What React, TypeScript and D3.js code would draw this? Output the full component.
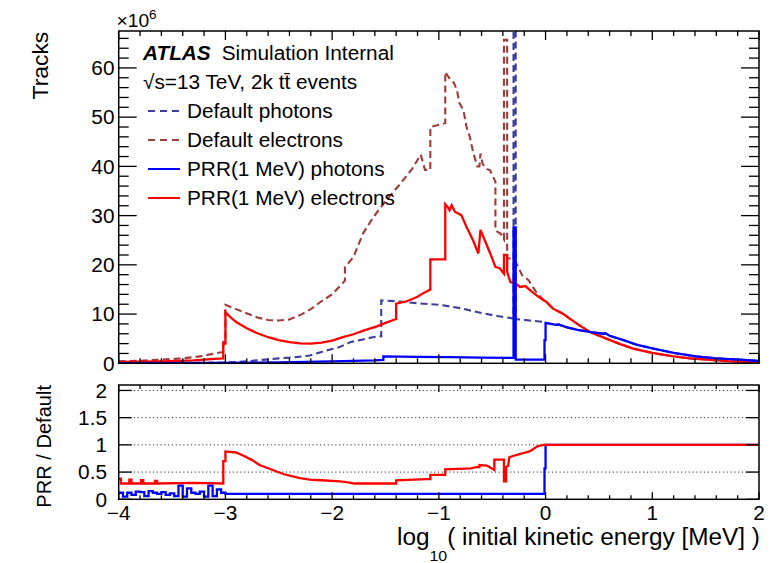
import React from 'react';
import * as d3 from 'd3';

const W = 777;
const H = 563;
const FONT = '"Liberation Sans", Arial, Helvetica, sans-serif';

// Axis ranges and tick labels
const ENERGY_DOMAIN: [number, number] = [-4, 2];
const TRACKS_MAX = 67.5;
const RATIO_MAX = 2.1;
const energyTicks = [-4, -3, -2, -1, 0, 1, 2];
const energyTickLabels = ['\u22124', '\u22123', '\u22122', '\u22121', '0', '1', '2'];
const tracksTicks = [0, 10, 20, 30, 40, 50, 60];
const ratioTicks = [0, 0.5, 1, 1.5, 2];
const ratioTickLabels = ['0', '0.5', '1', '1.5', '2'];
const ratioGrid = [0.5, 1, 1.5, 2];

type Pt = [number, number];

// Tracks (x10^6) vs log10(E / MeV). Repeated x values mark the vertical edges of bins.
const photonsAboveOneMeV: Pt[] = [
  [0, 8.2], [0.1, 7.8], [0.12, 7.9], [0.2, 7.3], [0.3, 6.8], [0.41, 6.4], [0.54, 6.0],
  [0.56, 6.1], [0.6, 5.6], [0.73, 4.7], [0.85, 3.8], [1.01, 3.0], [1.2, 2.1], [1.41, 1.4],
  [1.6, 1.0], [1.82, 0.75], [2.0, 0.47],
];
const electronsAboveOneMeV: Pt[] = [
  [0, 12.6], [0.07, 11.1], [0.16, 10.1], [0.29, 8.1], [0.41, 6.4], [0.57, 5.0], [0.7, 3.9],
  [0.82, 3.0], [1.0, 2.1], [1.2, 1.4], [1.35, 1.0], [1.51, 0.75], [1.7, 0.45], [1.85, 0.3],
  [2.0, 0.18],
];

const defaultPhotons: Pt[] = [
  [-4, 0.05], [-3.5, 0.08], [-3.0, 0.15], [-2.8, 0.4], [-2.71, 0.6], [-2.6, 0.8], [-2.5, 1.0],
  [-2.4, 1.15], [-2.3, 1.35], [-2.21, 1.6], [-2.1, 2.3], [-2.0, 2.9], [-1.93, 3.3], [-1.83, 4.3],
  [-1.7, 4.9], [-1.62, 5.3], [-1.54, 5.5], [-1.54, 12.8], [-1.4, 12.6], [-1.2, 12.2],
  [-1.0, 11.9], [-0.8, 11.2], [-0.6, 10.2], [-0.45, 9.6], [-0.3, 9.1], [-0.3, 90], [-0.28, 90],
  [-0.28, 9.0], [-0.15, 8.7], [-0.02, 8.4],
  ...photonsAboveOneMeV,
];

const defaultElectrons: Pt[] = [
  [-4, 0.4], [-3.8, 0.5], [-3.61, 0.75], [-3.4, 1.0], [-3.24, 1.4], [-3.1, 2.0], [-3.02, 2.3],
  [-3.02, 4.3], [-3.0, 4.3], [-3.0, 11.9], [-2.9, 11.0], [-2.83, 10.4], [-2.7, 9.3],
  [-2.6, 8.8], [-2.5, 8.7], [-2.4, 8.9], [-2.3, 9.8], [-2.2, 11.0], [-2.1, 12.6], [-2.0, 14.0],
  [-1.88, 16.8], [-1.88, 19.5], [-1.8, 21.6], [-1.71, 26.4], [-1.61, 29.8], [-1.49, 33.2],
  [-1.36, 36.5], [-1.25, 39.5], [-1.17, 42.4], [-1.13, 39.3], [-1.08, 39.3], [-1.08, 48.0],
  [-0.94, 48.8], [-0.94, 59.2], [-0.92, 58.5], [-0.89, 57.5], [-0.86, 57.0], [-0.83, 55.5],
  [-0.81, 53.0], [-0.77, 51.4], [-0.74, 48.0], [-0.71, 46.0], [-0.68, 43.0], [-0.64, 40.0],
  [-0.62, 40.0], [-0.61, 42.6], [-0.59, 40.5], [-0.55, 39.5], [-0.52, 39.2], [-0.47, 36.9],
  [-0.47, 27.0], [-0.42, 26.3], [-0.39, 25.2], [-0.39, 65.7], [-0.36, 65.7], [-0.36, 21.3],
  [-0.33, 21.3], [-0.28, 20.6], [-0.22, 17.9], [-0.16, 16.9], [-0.08, 14.2], [-0.02, 12.9],
  ...electronsAboveOneMeV,
];

const prrPhotons: Pt[] = [
  [-4, 0.05], [-3.0, 0.1], [-2.5, 0.2], [-2.0, 0.4], [-1.6, 0.6], [-1.52, 0.7], [-1.52, 1.4],
  [-1.2, 1.3], [-0.9, 1.25], [-0.6, 1.15], [-0.3, 1.1], [-0.3, 27.6], [-0.28, 27.6],
  [-0.28, 0.75], [-0.01, 0.75], [-0.01, 4.7], [0, 4.7],
  ...photonsAboveOneMeV,
];

const prrElectrons: Pt[] = [
  [-4, 0.3], [-3.6, 0.4], [-3.3, 0.6], [-3.1, 0.9], [-3.02, 1.0], [-3.02, 4.0], [-3.0, 4.0],
  [-3.0, 10.4], [-2.95, 9.3], [-2.9, 8.4], [-2.8, 7.1], [-2.7, 6.1], [-2.6, 5.3], [-2.5, 4.7],
  [-2.4, 4.3], [-2.3, 4.05], [-2.2, 4.0], [-2.1, 4.2], [-2.0, 4.6], [-1.9, 5.3], [-1.8, 5.9],
  [-1.7, 6.7], [-1.58, 7.5], [-1.5, 8.2], [-1.4, 9.0], [-1.4, 12.1], [-1.3, 12.6],
  [-1.2, 13.5], [-1.15, 14.2], [-1.08, 15.0], [-1.08, 21.1], [-0.94, 21.1], [-0.94, 32.3],
  [-0.92, 31.8], [-0.9, 31.1], [-0.88, 32.1], [-0.85, 30.8], [-0.79, 30.1], [-0.74, 27.7],
  [-0.68, 25.0], [-0.63, 22.3], [-0.61, 27.1], [-0.57, 25.0], [-0.52, 22.4], [-0.47, 19.6],
  [-0.43, 19.3], [-0.39, 18.2], [-0.39, 22.0], [-0.36, 22.0], [-0.36, 18.6], [-0.33, 16.5],
  [-0.28, 16.2], [-0.24, 15.5], [-0.19, 15.7], [-0.11, 14.2], [-0.02, 12.8],
  ...electronsAboveOneMeV,
];

// PRR / Default ratios
const photonRatioLowBins = [
  0.12, 0.05, 0.12, 0.08, 0.14, 0.13, 0.06, 0.15, 0.12, 0.1, 0.13, 0.08, 0.11, 0.06, 0.25,
  0.05, 0.2, 0.12, 0.1, 0.14, 0.05, 0.25, 0.06, 0.18, 0.12,
];
const photonRatioTail: Pt[] = [
  [-3.0, 0.1], [-0.01, 0.1], [-0.01, 0.57], [0, 0.57], [0, 1.0], [2, 1.0],
];
const electronRatio: Pt[] = [
  [-4, 0.38], [-3.98, 0.38], [-3.98, 0.29], [-3.9, 0.29], [-3.9, 0.36], [-3.88, 0.36],
  [-3.88, 0.29], [-3.79, 0.29], [-3.79, 0.35], [-3.77, 0.35], [-3.77, 0.29], [-3.66, 0.29],
  [-3.66, 0.34], [-3.64, 0.34], [-3.64, 0.29], [-3.3, 0.3], [-3.02, 0.29], [-3.02, 0.7],
  [-3.0, 0.7], [-3.0, 0.88], [-2.9, 0.86], [-2.83, 0.8], [-2.75, 0.72], [-2.68, 0.63],
  [-2.6, 0.57], [-2.52, 0.51], [-2.45, 0.46], [-2.37, 0.42], [-2.3, 0.39], [-2.21, 0.36],
  [-2.1, 0.35], [-1.93, 0.33], [-1.85, 0.31], [-1.79, 0.29], [-1.4, 0.29], [-1.4, 0.35],
  [-1.12, 0.37], [-1.08, 0.37], [-1.08, 0.45], [-0.94, 0.45], [-0.94, 0.55], [-0.7, 0.57],
  [-0.65, 0.59], [-0.62, 0.59], [-0.62, 0.63], [-0.55, 0.62], [-0.48, 0.54], [-0.48, 0.73],
  [-0.39, 0.73], [-0.39, 0.33], [-0.37, 0.33], [-0.37, 0.59], [-0.35, 0.62], [-0.34, 0.77],
  [-0.3, 0.8], [-0.15, 0.88], [-0.08, 0.97], [-0.02, 1.0], [2, 1.0],
];

const COLORS = {
  defaultPhotons: '#3d3d9c',
  defaultElectrons: '#9e3b3b',
  prrPhotons: '#0000ff',
  prrElectrons: '#ff0000',
};

const legendEntries = [
  { label: 'Default photons', color: COLORS.defaultPhotons, dashed: true },
  { label: 'Default electrons', color: COLORS.defaultElectrons, dashed: true },
  { label: 'PRR(1 MeV) photons', color: COLORS.prrPhotons, dashed: false },
  { label: 'PRR(1 MeV) electrons', color: COLORS.prrElectrons, dashed: false },
];

// Layout
const LEFT = 118.7;
const RIGHT = 759;
const TOP_Y0 = 31;
const TOP_Y1 = 363.3;
const LOW_Y0 = 385;
const LOW_Y1 = 499.3;
const STRETCH = 1.04;

function Txt(props: {
  x: number; y: number; size: number; anchor?: string; rotate?: number; sx?: number;
  weight?: string; italic?: boolean; children: React.ReactNode;
}) {
  const { x, y, size, anchor = 'start', rotate = 0, sx = STRETCH, weight, italic, children } = props;
  return (
    <text
      transform={`translate(${x},${y})${rotate ? ` rotate(${rotate})` : ''} scale(${sx},1)`}
      fontSize={size}
      fontFamily={FONT}
      textAnchor={anchor as any}
      fontWeight={weight}
      fontStyle={italic ? 'italic' : undefined}
      fill="#000"
    >
      {children}
    </text>
  );
}

function binsToSteps(values: number[], x0: number, width: number): Pt[] {
  const pts: Pt[] = [];
  values.forEach((v, i) => {
    pts.push([x0 + i * width, v]);
    pts.push([x0 + (i + 1) * width, v]);
  });
  return pts;
}

export default function App() {
  const x = d3.scaleLinear().domain(ENERGY_DOMAIN).range([LEFT, RIGHT]);
  const yTop = d3.scaleLinear().domain([0, TRACKS_MAX]).range([TOP_Y1, TOP_Y0]);
  const yLow = d3.scaleLinear().domain([0, RATIO_MAX]).range([LOW_Y1, LOW_Y0]);

  const lineTop = d3.line<Pt>().x((d) => x(d[0])).y((d) => yTop(d[1]));
  const lineLow = d3.line<Pt>().x((d) => x(d[0])).y((d) => yLow(d[1]));

  const photonRatio: Pt[] = [...binsToSteps(photonRatioLowBins, -4, 0.04), ...photonRatioTail];

  const minorX = d3.range(-4, 2.0001, 0.2).map((v) => Math.round(v * 10) / 10);
  const minorTracks = d3.range(0, TRACKS_MAX, 2);

  const tick = (k: string, x1: number, y1: number, x2: number, y2: number) => (
    <line key={k} x1={x1} y1={y1} x2={x2} y2={y2} stroke="#000" strokeWidth={1.3} />
  );

  const xTicks = (prefix: string, yBottom: number, yTopEdge: number, major: number, minor: number) =>
    minorX.flatMap((v) => {
      const len = Number.isInteger(v) ? major : minor;
      const px = x(v);
      return [
        tick(`${prefix}b${v}`, px, yBottom, px, yBottom - len),
        tick(`${prefix}t${v}`, px, yTopEdge, px, yTopEdge + len),
      ];
    });

  return (
    <svg
      width={W}
      height={H}
      viewBox={`0 0 ${W} ${H}`}
      style={{ position: 'absolute', left: 0, top: 0, background: '#fff' }}
    >
      <defs>
        <clipPath id="topClip">
          <rect x={LEFT} y={TOP_Y0} width={RIGHT - LEFT} height={TOP_Y1 - TOP_Y0} />
        </clipPath>
        <clipPath id="lowClip">
          <rect x={LEFT} y={LOW_Y0} width={RIGHT - LEFT} height={LOW_Y1 - LOW_Y0} />
        </clipPath>
      </defs>
      <rect x={0} y={0} width={W} height={H} fill="#fff" />

      {/* Upper panel: track spectra */}
      <g clipPath="url(#topClip)" fill="none" strokeLinejoin="miter">
        <path d={lineTop(defaultPhotons) ?? ''} stroke={COLORS.defaultPhotons} strokeWidth={2.1} strokeDasharray="7 4" />
        <path d={lineTop(defaultElectrons) ?? ''} stroke={COLORS.defaultElectrons} strokeWidth={2.1} strokeDasharray="7 4" />
        <path d={lineTop(prrElectrons) ?? ''} stroke={COLORS.prrElectrons} strokeWidth={2.3} />
        <path d={lineTop(prrPhotons) ?? ''} stroke={COLORS.prrPhotons} strokeWidth={2.3} />
      </g>

      <rect x={LEFT} y={TOP_Y0} width={RIGHT - LEFT} height={TOP_Y1 - TOP_Y0} fill="none" stroke="#000" strokeWidth={1.5} />
      {xTicks('top', TOP_Y1, TOP_Y0, 9, 5)}
      {minorTracks.map((v) => {
        const len = v % 10 === 0 ? 18 : 10;
        const py = yTop(v);
        return (
          <g key={`yt${v}`}>
            {tick(`yl${v}`, LEFT, py, LEFT + len, py)}
            {tick(`yr${v}`, RIGHT, py, RIGHT - len, py)}
          </g>
        );
      })}
      {tracksTicks.map((v) => (
        <Txt key={`tl${v}`} x={114.5} y={yTop(v) + 7.2} size={20} anchor="end">{String(v)}</Txt>
      ))}
      <Txt x={116.5} y={26.7} size={18.5}>
        {'\u00d710'}
        <tspan dy={-7.5} fontSize={13}>6</tspan>
      </Txt>
      <Txt x={48} y={31.7} size={22} anchor="end" rotate={-90}>Tracks</Txt>

      {/* Labels and legend */}
      <Txt x={143} y={60} size={20} weight="bold" italic>ATLAS</Txt>
      <Txt x={221.7} y={60} size={20}>Simulation Internal</Txt>
      <Txt x={143} y={89.3} size={20}>{'\u221as=13 TeV, 2k t'}{'t\u0304'}{' events'}</Txt>
      {legendEntries.map((e, i) => {
        const base = 117.5 + i * 29;
        return (
          <g key={e.label}>
            <line
              x1={148} x2={180} y1={base - 6.5} y2={base - 6.5}
              stroke={e.color} strokeWidth={2}
              strokeDasharray={e.dashed ? '7 5' : undefined}
            />
            <Txt x={187} y={base} size={20}>{e.label}</Txt>
          </g>
        );
      })}

      {/* Lower panel: ratio */}
      {ratioGrid.map((v) => (
        <line key={`g${v}`} x1={LEFT} x2={RIGHT} y1={yLow(v)} y2={yLow(v)} stroke="#333" strokeWidth={1} strokeDasharray="1.2 2.6" />
      ))}
      <g clipPath="url(#lowClip)" fill="none">
        <path d={lineLow(photonRatio) ?? ''} stroke={COLORS.prrPhotons} strokeWidth={2.3} />
        <path d={lineLow(electronRatio) ?? ''} stroke={COLORS.prrElectrons} strokeWidth={2.3} />
      </g>
      <rect x={LEFT} y={LOW_Y0} width={RIGHT - LEFT} height={LOW_Y1 - LOW_Y0} fill="none" stroke="#000" strokeWidth={1.5} />
      {xTicks('low', LOW_Y1, LOW_Y0, 7, 4)}
      {ratioTicks.map((v) => {
        const py = yLow(v);
        return (
          <g key={`rt${v}`}>
            {tick(`rl${v}`, LEFT, py, LEFT + 13, py)}
            {tick(`rr${v}`, RIGHT, py, RIGHT - 13, py)}
          </g>
        );
      })}
      {ratioTicks.map((v, i) => (
        <Txt key={`rl${v}`} x={107} y={yLow(v) + 7.2} size={20} anchor="end">{ratioTickLabels[i]}</Txt>
      ))}
      {energyTicks.map((v, i) => (
        <Txt key={`xl${v}`} x={x(v)} y={520} size={20} anchor="middle">{energyTickLabels[i]}</Txt>
      ))}
      <Txt x={50.5} y={385} size={19.5} anchor="end" rotate={-90} sx={1.03}>PRR / Default</Txt>
      <Txt x={760} y={545} size={23} anchor="end" sx={1.06}>
        log
        <tspan dy={16} fontSize={15}>10</tspan>
        <tspan dy={-16}>( initial kinetic energy [MeV] )</tspan>
      </Txt>
    </svg>
  );
}
